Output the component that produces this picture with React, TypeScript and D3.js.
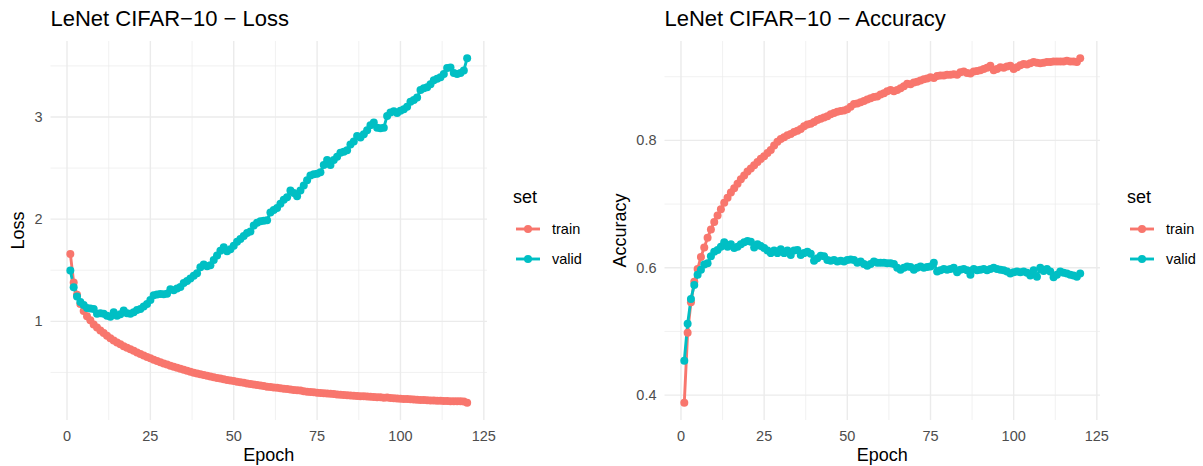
import * as d3 from "d3";

// epochs 1..120
const epochs = d3.range(1, 121);

// loss per epoch
const trainLoss = [
  1.66, 1.38, 1.26, 1.17, 1.10, 1.05, 1.01, 0.97, 0.94, 0.91,
  0.885, 0.86, 0.835, 0.812, 0.792, 0.775, 0.757, 0.741, 0.726, 0.711,
  0.695, 0.68, 0.666, 0.652, 0.638, 0.625, 0.612, 0.6, 0.588, 0.577,
  0.566, 0.555, 0.545, 0.535, 0.526, 0.516, 0.507, 0.498, 0.49, 0.482,
  0.475, 0.467, 0.46, 0.453, 0.446, 0.44, 0.433, 0.427, 0.421, 0.415,
  0.409, 0.403, 0.398, 0.392, 0.387, 0.381, 0.376, 0.371, 0.366, 0.361,
  0.357, 0.352, 0.349, 0.344, 0.34, 0.337, 0.332, 0.329, 0.325, 0.322,
  0.316, 0.312, 0.309, 0.305, 0.302, 0.299, 0.296, 0.293, 0.291, 0.288,
  0.285, 0.282, 0.28, 0.277, 0.275, 0.272, 0.27, 0.268, 0.266, 0.264,
  0.262, 0.26, 0.258, 0.256, 0.252, 0.255, 0.249, 0.247, 0.245, 0.243,
  0.241, 0.239, 0.237, 0.235, 0.233, 0.231, 0.23, 0.228, 0.226, 0.225,
  0.223, 0.222, 0.221, 0.22, 0.219, 0.218, 0.217, 0.217, 0.215, 0.203,
];
const validLoss = [
  1.497, 1.334, 1.243, 1.19, 1.16, 1.13, 1.125, 1.12, 1.075, 1.08,
  1.075, 1.055, 1.045, 1.09, 1.055, 1.07, 1.105, 1.08, 1.075, 1.09,
  1.11, 1.12, 1.145, 1.17, 1.21, 1.255, 1.262, 1.268, 1.265, 1.27,
  1.315, 1.305, 1.322, 1.336, 1.375, 1.395, 1.42, 1.445, 1.47, 1.53,
  1.556, 1.54, 1.55, 1.6, 1.644, 1.69, 1.725, 1.686, 1.705, 1.74,
  1.78, 1.807, 1.835, 1.865, 1.88, 1.937, 1.965, 1.98, 1.985, 1.99,
  2.065, 2.09, 2.11, 2.15, 2.19, 2.215, 2.28, 2.255, 2.225, 2.28,
  2.33, 2.38, 2.427, 2.44, 2.445, 2.46, 2.53, 2.58, 2.53, 2.58,
  2.61, 2.65, 2.66, 2.675, 2.73, 2.76, 2.815, 2.8, 2.83, 2.87,
  2.92, 2.945, 2.895, 2.89, 2.895, 3.01, 3.045, 3.056, 3.04, 3.06,
  3.075, 3.1, 3.15, 3.167, 3.19, 3.265, 3.28, 3.29, 3.32, 3.36,
  3.375, 3.39, 3.42, 3.48, 3.485, 3.43, 3.42, 3.43, 3.455, 3.575,
];

// accuracy per epoch
const trainAcc = [
  0.388, 0.498, 0.546, 0.578, 0.598, 0.617, 0.632, 0.647, 0.66, 0.672,
  0.682, 0.692, 0.702, 0.71, 0.718, 0.725, 0.732, 0.739, 0.745, 0.751,
  0.756, 0.761, 0.766, 0.771, 0.775, 0.78, 0.785, 0.792, 0.798, 0.802,
  0.805, 0.808, 0.81, 0.813, 0.815, 0.818, 0.822, 0.825, 0.826, 0.829,
  0.832, 0.834, 0.836, 0.838, 0.841, 0.843, 0.845, 0.846, 0.847, 0.849,
  0.853, 0.857, 0.858, 0.86, 0.862, 0.864, 0.866, 0.868, 0.869, 0.872,
  0.874, 0.877, 0.879, 0.877, 0.879, 0.882, 0.885, 0.889, 0.888, 0.891,
  0.892, 0.894, 0.896, 0.897, 0.899, 0.898, 0.901, 0.902, 0.902, 0.903,
  0.903, 0.904, 0.903, 0.907, 0.908, 0.906, 0.905, 0.908, 0.909, 0.91,
  0.912, 0.914, 0.917, 0.91, 0.912, 0.915, 0.914, 0.916, 0.917, 0.912,
  0.915, 0.918, 0.92, 0.919, 0.921, 0.923, 0.922, 0.921, 0.922, 0.923,
  0.923, 0.924, 0.924, 0.924, 0.924, 0.925, 0.924, 0.924, 0.923, 0.929,
];
const validAcc = [
  0.454, 0.512, 0.551, 0.573, 0.589, 0.597, 0.605, 0.607, 0.618, 0.625,
  0.628, 0.633, 0.64, 0.633, 0.637, 0.631, 0.633, 0.637, 0.64, 0.642,
  0.641, 0.632, 0.637, 0.634, 0.631, 0.627, 0.623, 0.627, 0.623, 0.629,
  0.623, 0.627, 0.62, 0.627, 0.628, 0.62, 0.623, 0.625, 0.622, 0.611,
  0.615, 0.619, 0.618, 0.612, 0.611, 0.612, 0.61, 0.611, 0.61, 0.612,
  0.613, 0.612, 0.608, 0.61, 0.606, 0.603, 0.606, 0.61, 0.608, 0.608,
  0.608, 0.607, 0.607, 0.606, 0.6, 0.597, 0.6, 0.602, 0.601, 0.597,
  0.6, 0.602, 0.6, 0.601, 0.602, 0.608, 0.594, 0.596, 0.598, 0.597,
  0.598, 0.6, 0.593, 0.597, 0.598, 0.596, 0.589, 0.598, 0.596, 0.597,
  0.598, 0.596, 0.598, 0.6, 0.598, 0.597, 0.596, 0.594, 0.591, 0.593,
  0.594, 0.593, 0.594, 0.592, 0.588, 0.596, 0.586, 0.6, 0.595, 0.598,
  0.594, 0.585, 0.589, 0.594, 0.592, 0.591, 0.589, 0.588, 0.586, 0.591,
];

const setNames = ["train", "valid"];
const setColors = ["#F8766D", "#00BFC4"];
const xBreaks = [0, 25, 50, 75, 100, 125];
const xMinor = [12.5, 37.5, 62.5, 87.5, 112.5];

const FONT = "'Liberation Sans', Arial, Helvetica, sans-serif";
const TOP = 41;
const BOTTOM = 420;

// ggplot style 5% padding
const expand = ([a, b]: number[]) => [a - (b - a) * 0.05, b + (b - a) * 0.05];

function Panel({ left, right, title, yLabel, yLabelX, legendX, series, yBreaks, yMinor, fmt }: any) {
  const x = d3.scaleLinear().domain(expand([1, 120])).range([left, right]);
  const all = series.flat();
  const y = d3.scaleLinear().domain(expand(d3.extent(all) as number[])).range([BOTTOM, TOP]);
  const line = d3.line<number>().x((d, i) => x(epochs[i])).y((d) => y(d));

  return (
    <g fontFamily={FONT}>
      {/* grid */}
      {yMinor.map((v: number) => (
        <line key={"ym" + v} x1={left} x2={right} y1={y(v)} y2={y(v)} stroke="#EBEBEB" strokeWidth={0.7} />
      ))}
      {xMinor.map((v) => (
        <line key={"xm" + v} x1={x(v)} x2={x(v)} y1={TOP} y2={BOTTOM} stroke="#EBEBEB" strokeWidth={0.7} />
      ))}
      {yBreaks.map((v: number) => (
        <line key={"yM" + v} x1={left} x2={right} y1={y(v)} y2={y(v)} stroke="#EBEBEB" strokeWidth={1.4} />
      ))}
      {xBreaks.map((v) => (
        <line key={"xM" + v} x1={x(v)} x2={x(v)} y1={TOP} y2={BOTTOM} stroke="#EBEBEB" strokeWidth={1.4} />
      ))}

      {/* lines then points */}
      {series.map((s: number[], k: number) => (
        <path key={"l" + k} d={line(s) || ""} fill="none" stroke={setColors[k]} strokeWidth={2.9} />
      ))}
      {series.map((s: number[], k: number) => (
        <g key={"p" + k} fill={setColors[k]}>
          {s.map((d, i) => (
            <circle key={i} cx={x(epochs[i])} cy={y(d)} r={4} />
          ))}
        </g>
      ))}

      {/* axes text */}
      {yBreaks.map((v: number) => (
        <text key={"yt" + v} x={left - 8} y={y(v)} dy="0.35em" textAnchor="end" fontSize={14.5} fill="#4D4D4D">
          {fmt(v)}
        </text>
      ))}
      {xBreaks.map((v) => (
        <text key={"xt" + v} x={x(v)} y={BOTTOM + 21} textAnchor="middle" fontSize={14.5} fill="#4D4D4D">
          {v}
        </text>
      ))}
      <text x={(left + right) / 2} y={461} textAnchor="middle" fontSize={18} fill="#000">
        Epoch
      </text>
      <text
        transform={`translate(${yLabelX},${(TOP + BOTTOM) / 2}) rotate(-90)`}
        dy="0.35em"
        textAnchor="middle"
        fontSize={18}
        fill="#000"
      >
        {yLabel}
      </text>
      <text x={left} y={26} fontSize={22} fill="#000">
        {title}
      </text>

      {/* legend */}
      <text x={legendX} y={203} fontSize={18} fill="#000">set</text>
      {setNames.map((n, i) => {
        const ky = 229 + 30 * i;
        return (
          <g key={n}>
            <line x1={legendX + 3} x2={legendX + 27} y1={ky} y2={ky} stroke={setColors[i]} strokeWidth={2.9} />
            <circle cx={legendX + 15} cy={ky} r={4} fill={setColors[i]} />
            <text x={legendX + 39} y={ky} dy="0.35em" fontSize={14.5} fill="#000">{n}</text>
          </g>
        );
      })}
    </g>
  );
}

export default function App() {
  return (
    <svg width={1203} height={466} style={{ position: "absolute", left: 0, top: 0, background: "#fff" }}>
      <Panel
        left={50.5}
        right={487}
        title="LeNet CIFAR−10 − Loss"
        yLabel="Loss"
        yLabelX={18}
        legendX={513}
        series={[trainLoss, validLoss]}
        yBreaks={[1, 2, 3]}
        yMinor={[0.5, 1.5, 2.5, 3.5]}
        fmt={(v: number) => String(v)}
      />
      <Panel
        left={664.5}
        right={1100}
        title="LeNet CIFAR−10 − Accuracy"
        yLabel="Accuracy"
        yLabelX={620}
        legendX={1127}
        series={[trainAcc, validAcc]}
        yBreaks={[0.4, 0.6, 0.8]}
        yMinor={[0.5, 0.7, 0.9]}
        fmt={(v: number) => v.toFixed(1)}
      />
    </svg>
  );
}
